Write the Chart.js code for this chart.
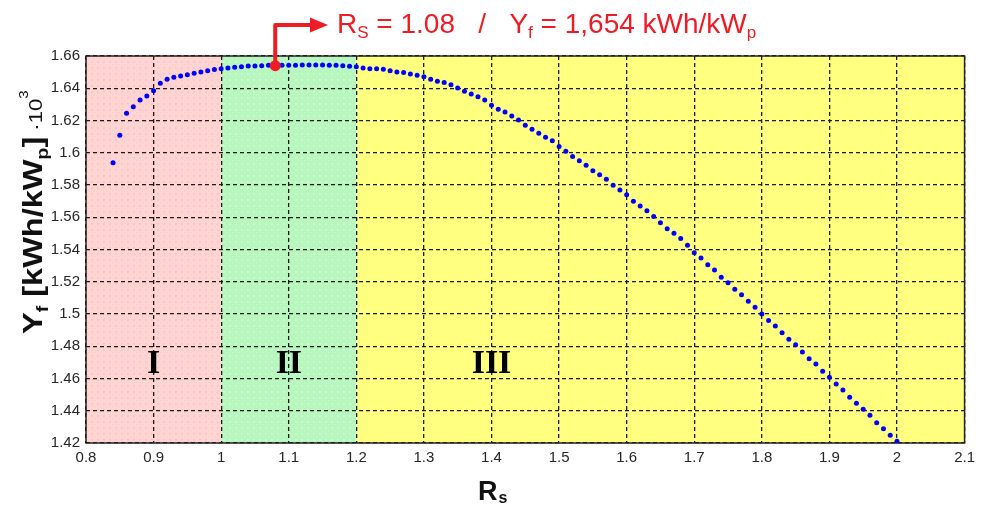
<!DOCTYPE html>
<html>
<head>
<meta charset="utf-8">
<script src="https://cdn.jsdelivr.net/npm/chart.js@4.4.0/dist/chart.umd.min.js"></script>
<style>
    html, body { margin: 0; padding: 0; background: #ffffff; }
    #wrap { width: 981px; height: 510px; }
</style>
</head>
<body>
<div id="wrap"><canvas id="yieldChart" width="981" height="510"></canvas></div>
<script>

// sizing ratio Rs (x) and final yield Yf in kWh/kWp * 10^3 (y)
var rsValues = [
    0.84, 0.85, 0.86, 0.87, 0.88, 0.89, 0.90, 0.91, 0.92, 0.93, 0.94, 0.95, 0.96, 0.97, 0.98, 0.99,
    1.00, 1.01, 1.02, 1.03, 1.04, 1.05, 1.06, 1.07, 1.08, 1.09, 1.10, 1.11, 1.12, 1.13, 1.14, 1.15,
    1.16, 1.17, 1.18, 1.19, 1.20, 1.21, 1.22, 1.23, 1.24, 1.25, 1.26, 1.27, 1.28, 1.29, 1.30, 1.31,
    1.32, 1.33, 1.34, 1.35, 1.36, 1.37, 1.38, 1.39, 1.40, 1.41, 1.42, 1.43, 1.44, 1.45, 1.46, 1.47,
    1.48, 1.49, 1.50, 1.51, 1.52, 1.53, 1.54, 1.55, 1.56, 1.57, 1.58, 1.59, 1.60, 1.61, 1.62, 1.63,
    1.64, 1.65, 1.66, 1.67, 1.68, 1.69, 1.70, 1.71, 1.72, 1.73, 1.74, 1.75, 1.76, 1.77, 1.78, 1.79,
    1.80, 1.81, 1.82, 1.83, 1.84, 1.85, 1.86, 1.87, 1.88, 1.89, 1.90, 1.91, 1.92, 1.93, 1.94, 1.95,
    1.96, 1.97, 1.98, 1.99, 2.00
];
var yieldValues = [
    1.5938, 1.6108, 1.6245, 1.6286, 1.6327, 1.6352, 1.6385, 1.6431, 1.6456, 1.6468, 1.6476, 1.6484, 1.6493, 1.6501, 1.6509, 1.6517,
    1.6521, 1.6526, 1.6530, 1.6534, 1.6538, 1.6538, 1.6540, 1.6542, 1.6542, 1.6542, 1.6543, 1.6543, 1.6544, 1.6544, 1.6544, 1.6544,
    1.6543, 1.6542, 1.6539, 1.6536, 1.6534, 1.6526, 1.6521, 1.6521, 1.6518, 1.6509, 1.6501, 1.6497, 1.6489, 1.6480, 1.6472, 1.6456,
    1.6443, 1.6435, 1.6422, 1.6402, 1.6381, 1.6365, 1.6348, 1.6327, 1.6294, 1.6270, 1.6253, 1.6228, 1.6203, 1.6170, 1.6146, 1.6121,
    1.6096, 1.6075, 1.6038, 1.6009, 1.5976, 1.5951, 1.5922, 1.5889, 1.5864, 1.5836, 1.5798, 1.5769, 1.5740, 1.5699, 1.5670, 1.5641,
    1.5604, 1.5566, 1.5529, 1.5501, 1.5468, 1.5426, 1.5380, 1.5347, 1.5306, 1.5273, 1.5228, 1.5194, 1.5153, 1.5120, 1.5079, 1.5042,
    1.5000, 1.4959, 1.4926, 1.4884, 1.4843, 1.4810, 1.4764, 1.4723, 1.4690, 1.4645, 1.4607, 1.4566, 1.4529, 1.4483, 1.4446, 1.4409,
    1.4372, 1.4326, 1.4289, 1.4248, 1.4211
];

var xTickValues = [0.8, 0.9, 1.0, 1.1, 1.2, 1.3, 1.4, 1.5, 1.6, 1.7, 1.8, 1.9, 2.0, 2.1];
var yTickValues = [1.42, 1.44, 1.46, 1.48, 1.50, 1.52, 1.54, 1.56, 1.58, 1.60, 1.62, 1.64, 1.66];

// zones I / II / III on the Rs axis
var regionEdges = [0.8, 1.0, 1.2, 2.1];
var regionNames = ['I', 'II', 'III'];

// optimum
var optRs = 1.08;
var optYf = 1.654;
var optText = '1.08';
var optYieldText = '1,654';

var tickFont = '"Liberation Sans", Arial, sans-serif';

function formatTick(v) {
    return String(parseFloat(Number(v).toFixed(2)));
}

function dotPattern(ctx, base, dot) {
    var c = document.createElement('canvas');
    c.width = 6;
    c.height = 6;
    var p = c.getContext('2d');
    p.fillStyle = base;
    p.fillRect(0, 0, 6, 6);
    p.fillStyle = dot;
    p.fillRect(1, 1, 2, 2);
    p.fillRect(4, 4, 1, 1);
    return ctx.createPattern(c, 'repeat');
}

var decorPlugin = {
    id: 'decor',
    beforeDraw: function (chart) {
        var ctx = chart.ctx,
            xs = chart.scales.x,
            area = chart.chartArea;
        var fills = [
            dotPattern(ctx, '#ffd5cf', '#ffc2d8'),
            dotPattern(ctx, '#b8f6c0', '#c8fbc6'),
            '#ffff80'
        ];
        ctx.save();
        ctx.fillStyle = '#ffffff';
        ctx.fillRect(0, 0, chart.width, chart.height);
        for (var i = 0; i < regionNames.length; i++) {
            var x0 = xs.getPixelForValue(regionEdges[i]),
                x1 = xs.getPixelForValue(regionEdges[i + 1]);
            ctx.fillStyle = fills[i];
            ctx.fillRect(x0, area.top, x1 - x0, area.bottom - area.top);
        }
        ctx.restore();
    },
    beforeDatasetsDraw: function (chart) {
        var ctx = chart.ctx,
            xs = chart.scales.x,
            ys = chart.scales.y,
            area = chart.chartArea;
        ctx.save();

        // plot frame
        ctx.strokeStyle = '#222222';
        ctx.lineWidth = 1.5;
        ctx.setLineDash([]);
        ctx.strokeRect(area.left, area.top, area.right - area.left, area.bottom - area.top);

        // zone names
        ctx.fillStyle = '#000000';
        ctx.font = 'bold 34px "Liberation Serif", "Times New Roman", serif';
        ctx.textAlign = 'center';
        ctx.textBaseline = 'middle';
        for (var i = 0; i < regionNames.length; i++) {
            var mid = xs.getPixelForValue(regionEdges[i]) + 67.7;
            if (i === 2) mid = xs.getPixelForValue(1.4);
            ctx.fillText(regionNames[i], mid, ys.getPixelForValue(1.469));
        }

        // arrow from the optimum up and to the right
        var px = xs.getPixelForValue(optRs),
            py = ys.getPixelForValue(optYf);
        var red = '#ee1c24';
        ctx.strokeStyle = red;
        ctx.fillStyle = red;
        ctx.lineWidth = 4;
        ctx.lineJoin = 'round';
        ctx.lineCap = 'butt';
        ctx.beginPath();
        ctx.moveTo(px, py);
        ctx.lineTo(px, 25);
        ctx.lineTo(313, 25);
        ctx.stroke();
        ctx.beginPath();
        ctx.moveTo(328, 25);
        ctx.lineTo(310, 17.5);
        ctx.lineTo(310, 32.5);
        ctx.closePath();
        ctx.fill();

        // annotation text
        var pieces = [
            { t: 'R', sub: false },
            { t: 'S', sub: true },
            { t: ' = ' + optText + '   /   Y', sub: false },
            { t: 'f', sub: true },
            { t: ' = ' + optYieldText + ' kWh/kW', sub: false },
            { t: 'p', sub: true }
        ];
        var tx = 337;
        ctx.textAlign = 'left';
        ctx.textBaseline = 'alphabetic';
        pieces.forEach(function (p) {
            ctx.font = (p.sub ? '17px ' : '28px ') + '"Liberation Sans", Arial, sans-serif';
            ctx.fillText(p.t, tx, p.sub ? 38 : 33);
            tx += ctx.measureText(p.t).width;
        });

        // y axis title, rotated and stretched a bit along the text
        ctx.fillStyle = '#111111';
        ctx.translate(42, 334);
        ctx.rotate(-Math.PI / 2);
        ctx.scale(1.16, 1);
        var cx = 0;
        var yTitle = [
            { t: 'Y', f: 'bold 28px', dy: 0 },
            { t: 'f', f: 'bold 17px', dy: 6 },
            { t: ' [kWh/kW', f: 'bold 28px', dy: 0 },
            { t: 'p', f: 'bold 17px', dy: 6 },
            { t: ']', f: 'bold 28px', dy: 0 },
            { t: ' \u00b710', f: '19px', dy: 0 },
            { t: '3', f: '13px', dy: -14 }
        ];
        yTitle.forEach(function (p) {
            ctx.font = p.f + ' "Liberation Sans", Arial, sans-serif';
            ctx.fillText(p.t, cx, p.dy);
            cx += ctx.measureText(p.t).width;
        });
        ctx.setTransform(1, 0, 0, 1, 0, 0);

        // x axis title
        ctx.font = 'bold 27px "Liberation Sans", Arial, sans-serif';
        ctx.fillText('R', 478, 500);
        var rw = ctx.measureText('R').width;
        ctx.font = 'bold 16px "Liberation Sans", Arial, sans-serif';
        ctx.fillText('s', 478 + rw + 1, 503);

        ctx.restore();
    }
};

var points = rsValues.map(function (r, i) {
    return { x: r, y: yieldValues[i] };
});

var yieldChart = new Chart(document.getElementById('yieldChart').getContext('2d'), {
    type: 'scatter',
    data: {
        datasets: [{
            label: 'optimum',
            data: [{ x: optRs, y: optYf }],
            backgroundColor: '#ee1c24',
            borderColor: '#ee1c24',
            pointRadius: 5.5,
            borderWidth: 0,
            order: 0
        }, {
            label: 'Yf',
            data: points,
            backgroundColor: '#0000ff',
            borderColor: '#0000ff',
            pointRadius: 2.5,
            borderWidth: 0,
            order: 1
        }]
    },
    options: {
        responsive: false,
        animation: false,
        devicePixelRatio: 1,
        layout: {
            padding: { top: 56, right: 15, left: 0, bottom: 0 }
        },
        plugins: {
            legend: { display: false },
            tooltip: { enabled: false }
        },
        scales: {
            x: {
                type: 'linear',
                min: 0.8,
                max: 2.1,
                afterBuildTicks: function (scale) {
                    scale.ticks = xTickValues.map(function (v) { return { value: v }; });
                },
                afterFit: function (scale) {
                    scale.height = 67;
                },
                grid: { color: '#1a1a1a', lineWidth: 1.3, drawTicks: false },
                border: { display: false, dash: [4, 3] },
                ticks: {
                    padding: 6,
                    color: '#262626',
                    autoSkip: false,
                    maxRotation: 0,
                    font: { family: tickFont, size: 15 },
                    callback: formatTick
                }
            },
            y: {
                type: 'linear',
                min: 1.42,
                max: 1.66,
                afterBuildTicks: function (scale) {
                    scale.ticks = yTickValues.map(function (v) { return { value: v }; });
                },
                afterFit: function (scale) {
                    scale.width = 86;
                },
                grid: { color: '#1a1a1a', lineWidth: 1.3, drawTicks: false },
                border: { display: false, dash: [4, 3] },
                ticks: {
                    padding: 6,
                    color: '#262626',
                    autoSkip: false,
                    font: { family: tickFont, size: 15 },
                    callback: formatTick
                }
            }
        }
    },
    plugins: [decorPlugin]
});
</script>
</body>
</html>
